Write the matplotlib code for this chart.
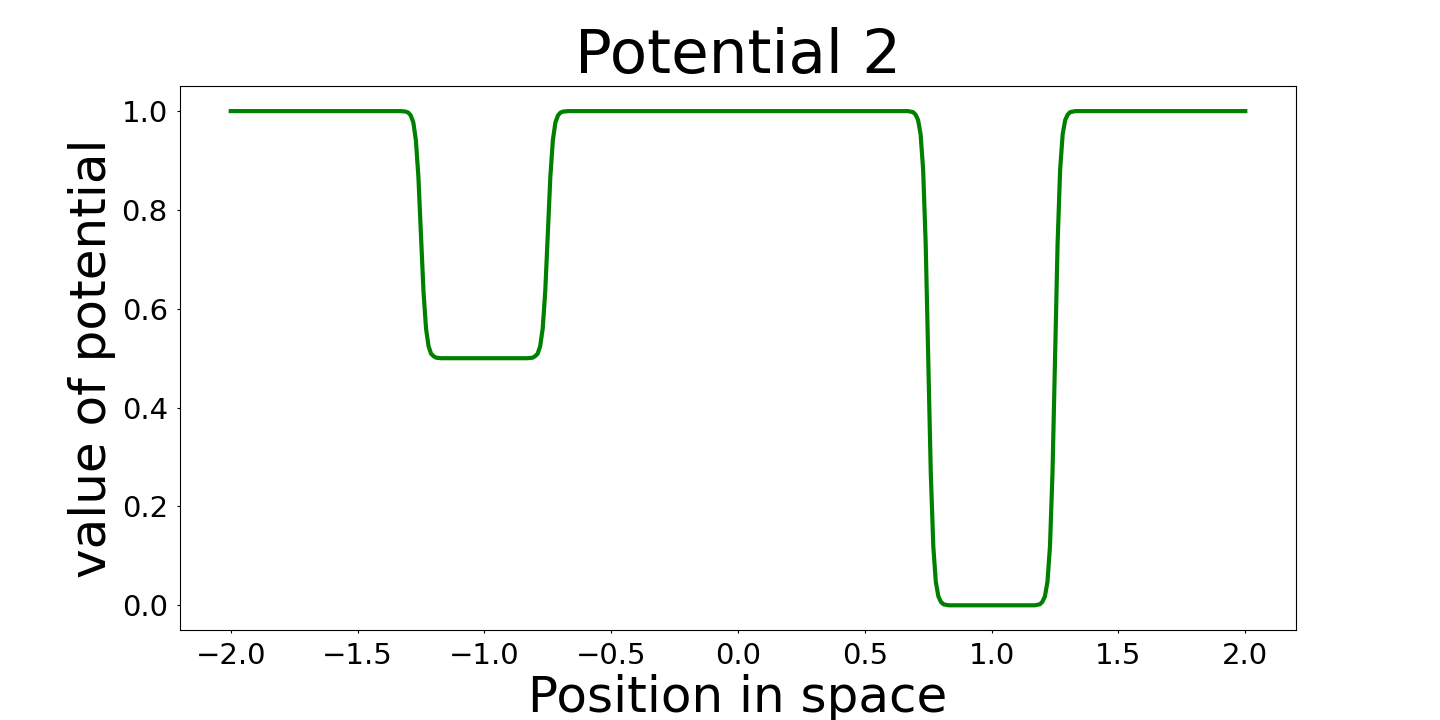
import matplotlib
matplotlib.use('Agg')
import matplotlib.pyplot as plt

# potential: flat at 1.0 with two wells
# well 1 (depth 0.5) between -1.25 and -0.75, well 2 (depth 1.0) between 0.75 and 1.25
X_POS = [
    -2.00,
    -1.33, -1.31, -1.30, -1.29, -1.28, -1.27, -1.26, -1.25,
    -1.24, -1.23, -1.22, -1.21, -1.20, -1.19, -1.17,
    -0.83, -0.81, -0.80, -0.79, -0.78, -0.77, -0.76, -0.75,
    -0.74, -0.73, -0.72, -0.71, -0.70, -0.69, -0.67,
    0.67, 0.69, 0.70, 0.71, 0.72, 0.73, 0.74, 0.75,
    0.76, 0.77, 0.78, 0.79, 0.80, 0.81, 0.83,
    1.17, 1.19, 1.20, 1.21, 1.22, 1.23, 1.24, 1.25,
    1.26, 1.27, 1.28, 1.29, 1.30, 1.31, 1.33,
    2.00,
]
V_POT = [
    1.000,
    1.000, 0.999, 0.997, 0.991, 0.977, 0.941, 0.866, 0.750,
    0.635, 0.560, 0.524, 0.509, 0.504, 0.501, 0.500,
    0.500, 0.501, 0.504, 0.509, 0.524, 0.560, 0.635, 0.750,
    0.866, 0.941, 0.977, 0.991, 0.997, 0.999, 1.000,
    1.000, 0.998, 0.993, 0.982, 0.953, 0.881, 0.731, 0.500,
    0.269, 0.119, 0.047, 0.018, 0.007, 0.002, 0.000,
    0.000, 0.002, 0.007, 0.018, 0.047, 0.119, 0.269, 0.500,
    0.731, 0.881, 0.953, 0.982, 0.993, 0.998, 1.000,
    1.000,
]

fig, ax = plt.subplots(figsize=(14.4, 7.2), dpi=100)
fig.subplots_adjust(left=0.125, right=0.9, top=0.88, bottom=0.125)
ax.plot(X_POS, V_POT, color='green', linewidth=3, solid_joinstyle='round')

ax.set_title("Potential 2", fontsize=44, pad=3)
ax.set_xlabel("Position in space", fontsize=36, labelpad=3)
ax.set_ylabel("value of potential", fontsize=36)
ax.tick_params(axis='both', labelsize=21, length=2.4, pad=6.4)

fig.savefig("out.png", dpi=100)
